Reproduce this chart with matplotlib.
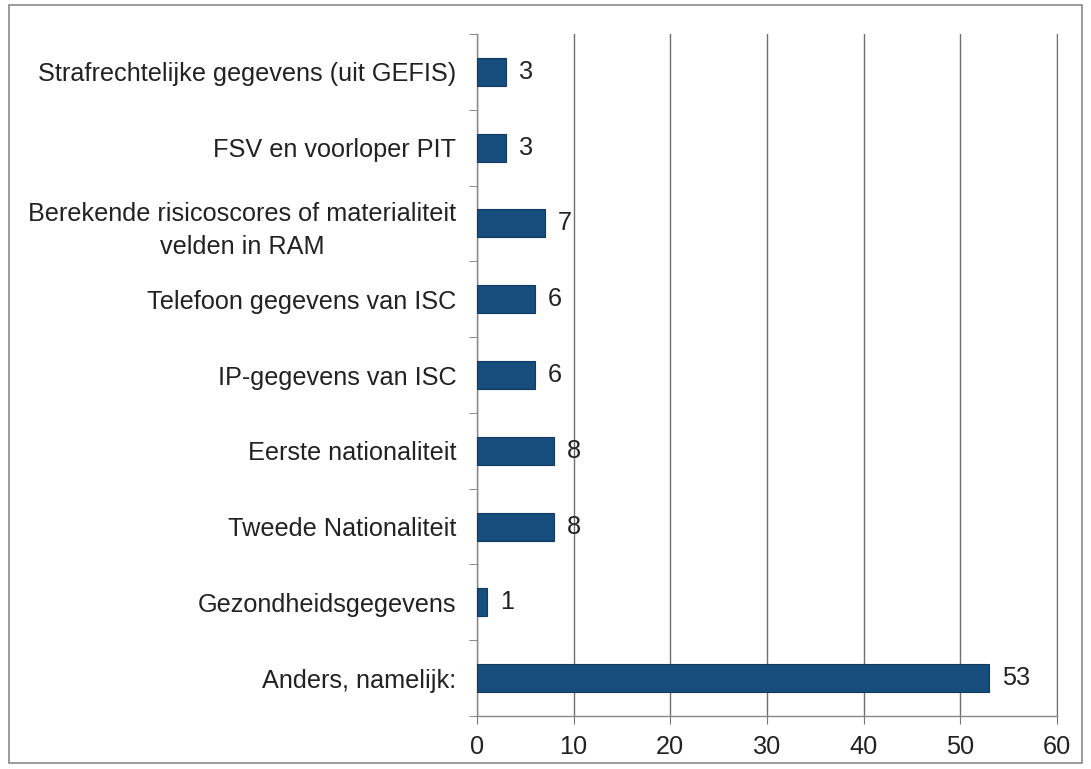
import numpy as np
import matplotlib.pyplot as plt
from matplotlib.patches import Rectangle

# Categories top to bottom, as in the picture
categories = [
    "Strafrechtelijke gegevens (uit GEFIS)",
    "FSV en voorloper PIT",
    "Berekende risicoscores of materialiteit\nvelden in RAM",
    "Telefoon gegevens van ISC",
    "IP-gegevens van ISC",
    "Eerste nationaliteit",
    "Tweede Nationaliteit",
    "Gezondheidsgegevens",
    "Anders, namelijk:",
]
values = [3, 3, 7, 6, 6, 8, 8, 1, 53]
xticks = [0, 10, 20, 30, 40, 50, 60]

plt.rcParams['font.family'] = ['Liberation Sans', 'DejaVu Sans']
FS = 18.2

fig = plt.figure(figsize=(10.91, 7.69), dpi=100)
ax = fig.add_axes([0.4372, 0.0689, 0.5316, 0.8869])

y = np.arange(len(categories))[::-1]
bar_color = '#174d7c'
ax.barh(y, values, height=0.37, color=bar_color, edgecolor='#0f3a63',
        linewidth=0.8, zorder=3)

for yi, v in zip(y, values):
    ax.text(v + 1.35, yi, str(v), va='center', ha='left', fontsize=FS,
            color='#222222')

ax.set_xlim(0, 60)
ax.set_ylim(-0.5, len(categories) - 0.5)
ax.set_xticks(xticks)
ax.set_yticks(y)
ax.set_yticklabels(categories, fontsize=FS, color='#222222')
for lbl in ax.get_yticklabels():
    lbl.set_multialignment('center')
    lbl.set_linespacing(1.5)
ax.tick_params(axis='y', length=0, pad=15)
ax.tick_params(axis='x', length=6, color='#777777', labelsize=FS,
               labelcolor='#222222', pad=8)

# category separator ticks on the y axis
ax.set_yticks(np.arange(-0.5, len(categories), 1.0), minor=True)
ax.tick_params(axis='y', which='minor', length=6, color='#777777')

ax.grid(axis='x', color='#6f6f6f', linewidth=1.0, zorder=0)
ax.spines['top'].set_visible(False)
ax.spines['right'].set_color('#6f6f6f')
for side in ['left', 'bottom']:
    ax.spines[side].set_color('#888888')
    ax.spines[side].set_linewidth(1.0)

# outer frame around the whole chart
fig.patches.append(Rectangle((0.008, 0.008), 0.984, 0.985, transform=fig.transFigure,
                             fill=False, edgecolor='#8a8a8a', linewidth=1.2))

fig.savefig('out.png', dpi=100)
